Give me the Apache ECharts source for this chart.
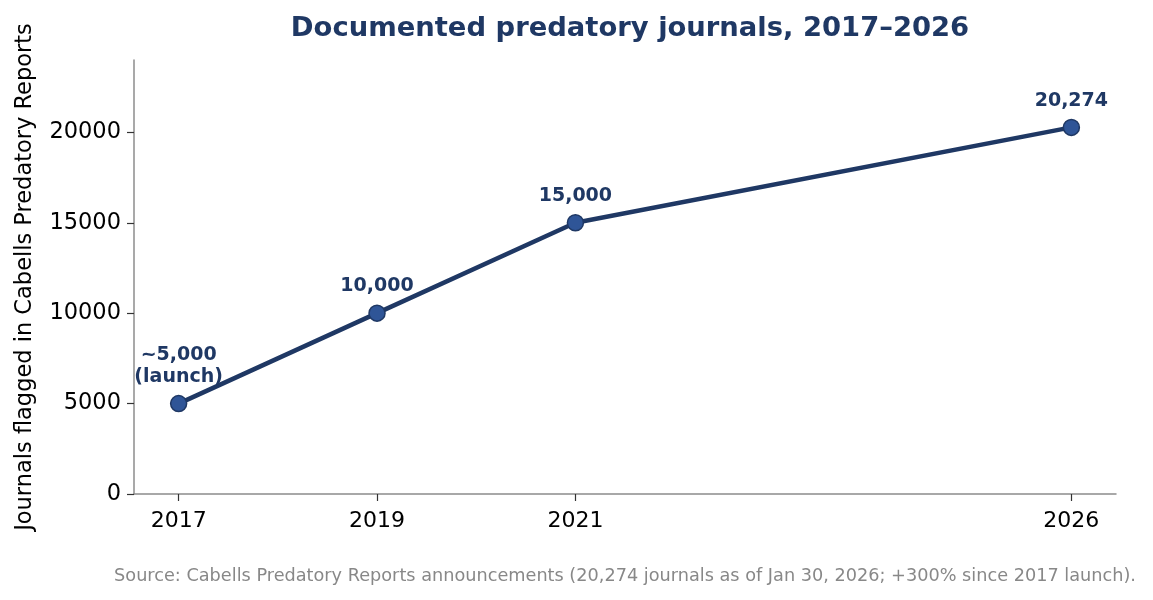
<!DOCTYPE html>
<html>
<head>
<meta charset="utf-8">
<script src="https://cdn.jsdelivr.net/npm/echarts@6/dist/echarts.min.js"></script>
<style>
html, body { margin: 0; padding: 0; background: #fff; }
#chart { width: 1153px; height: 600px; }
</style>
</head>
<body>
<div id="chart"></div>
<script>
// data
var years = [2017, 2019, 2021, 2026];
var journals = [5000, 10000, 15000, 20274];
var pointLabels = ['~5,000\n(launch)', '10,000', '15,000', '20,274'];
var yTicks = [0, 5000, 10000, 15000, 20000];

var navy = '#1f3864';
var font = 'DejaVu Sans';

var chart = echarts.init(document.getElementById('chart'));
var option = {
    animation: false,
    backgroundColor: '#fff',
    title: {
        text: 'Documented predatory journals, 2017\u20132026',
        left: 625,
        textAlign: 'center',
        top: 10,
        textStyle: { fontFamily: font, fontSize: 27.4, fontWeight: 'bold', color: navy }
    },
    graphic: [{
        type: 'text',
        x: 625,
        y: 576,
        style: {
            text: 'Source: Cabells Predatory Reports announcements (20,274 journals as of Jan 30, 2026; +300% since 2017 launch).',
            fontFamily: font, fontSize: 17.7, fill: '#888888',
            textAlign: 'center', textVerticalAlign: 'middle'
        }
    }],
    grid: { left: 134, right: 37, top: 60, bottom: 106 },
    xAxis: {
        type: 'value',
        min: 2016.55,
        max: 2026.45,
        splitLine: { show: false },
        axisLine: { lineStyle: { color: '#8c8c8c', width: 1.5 } },
        axisTick: { show: true, customValues: years, length: 7, lineStyle: { color: '#333', width: 1.2 } },
        axisLabel: {
            customValues: years,
            formatter: function (v) { return String(v); },
            fontFamily: font, fontSize: 22, color: '#000', margin: 16
        }
    },
    yAxis: {
        type: 'value',
        min: 0,
        max: 24000,
        name: 'Journals flagged in Cabells Predatory Reports',
        nameLocation: 'middle',
        nameGap: 97,
        nameTextStyle: { fontFamily: font, fontSize: 22.5, color: '#000' },
        splitLine: { show: false },
        axisLine: { show: true, lineStyle: { color: '#8c8c8c', width: 1.5 } },
        axisTick: { show: true, customValues: yTicks, length: 7, lineStyle: { color: '#333', width: 1.2 } },
        axisLabel: {
            customValues: yTicks,
            formatter: function (v) { return String(v); },
            fontFamily: font, fontSize: 22.5, color: '#000', margin: 13
        }
    },
    series: [{
        type: 'line',
        data: years.map(function (y, i) { return [y, journals[i]]; }),
        lineStyle: { color: navy, width: 4.5 },
        symbol: 'circle',
        symbolSize: 16,
        itemStyle: { color: '#2f5597', borderColor: navy, borderWidth: 1.5 },
        label: {
            show: true,
            position: 'top',
            distance: 7,
            formatter: function (p) { return pointLabels[p.dataIndex]; },
            fontFamily: font, fontSize: 19, fontWeight: 'bold', color: navy,
            lineHeight: 22, align: 'center'
        },
        z: 3
    }]
};
chart.setOption(option);
</script>
</body>
</html>
